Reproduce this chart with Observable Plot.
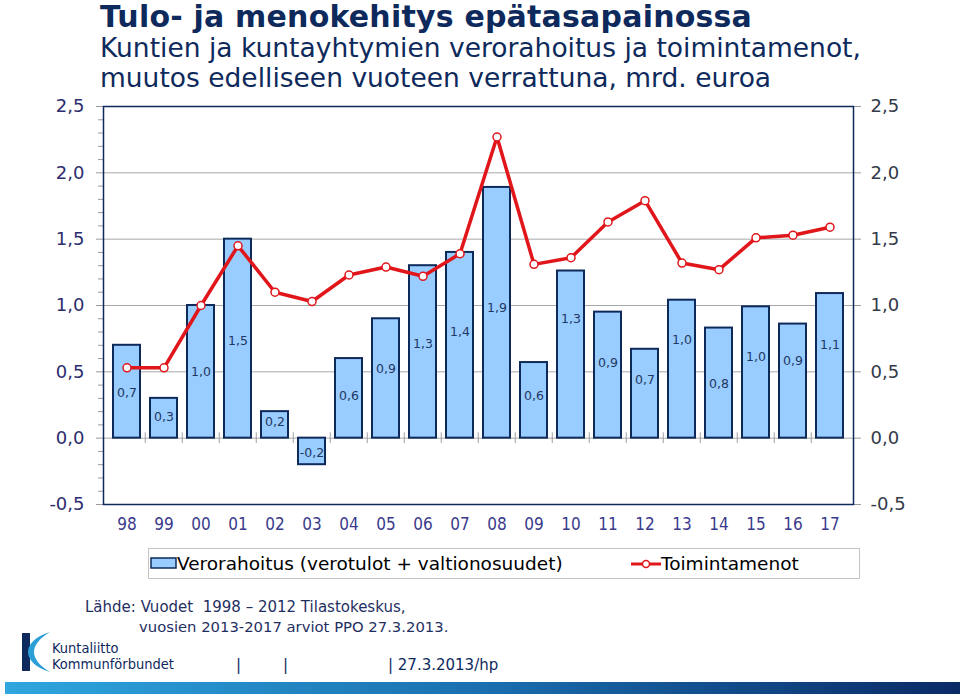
<!DOCTYPE html>
<html><head><meta charset="utf-8">
<script src="https://cdn.jsdelivr.net/npm/d3@7"></script>
<script src="https://cdn.jsdelivr.net/npm/@observablehq/plot@0.6"></script>
<style>
body{margin:0;background:#fff;}
#wrap{position:relative;width:960px;height:696px;overflow:hidden;font-family:"DejaVu Sans",sans-serif;}
#chart{position:absolute;left:0;top:0;}
.abs{position:absolute;white-space:nowrap;line-height:1.15;}
</style></head><body><div id="wrap">
<div id="chart"></div>
<div class="abs" id="title" style="left:100px;top:0px;line-height:1.164;font-weight:bold;font-size:30px;letter-spacing:0.2px;color:#0e2a5c;">Tulo- ja menokehitys epätasapainossa</div>
<div class="abs" style="left:100px;top:35px;font-size:26.5px;line-height:1;color:#0e2a5c;">Kuntien ja kuntayhtymien verorahoitus ja toimintamenot,</div>
<div class="abs" style="left:100px;top:65px;font-size:26.5px;line-height:1;color:#0e2a5c;">muutos edelliseen vuoteen verrattuna, mrd. euroa</div>
<div id="legend" class="abs" style="left:148px;top:548px;width:712px;height:31px;border:1px solid #c4c4c4;box-sizing:border-box;"></div>
<div class="abs" style="left:85px;top:599px;font-size:15px;color:#1f2f5f;">Lähde: Vuodet&nbsp; 1998 – 2012 Tilastokeskus,</div>
<div class="abs" style="left:139px;top:618px;font-size:14.8px;color:#1f2f5f;">vuosien 2013-2017 arviot PPO 27.3.2013.</div>
<svg class="abs" style="left:18px;top:630px;" width="40" height="44" viewBox="0 0 40 44">
  <rect x="4" y="3" width="8" height="38" fill="#0e2a5c"/>
  <path d="M32,2 C18,6 10,14 10,22 C10,30 18,38 32,42 C22,36 16,29 16,22 C16,15 22,8 32,2 Z" fill="#2b9fd6"/>
</svg>
<div class="abs" style="left:52px;top:641px;font-family:'DejaVu Sans Condensed';font-size:14.5px;line-height:1;color:#0e2a5c;">Kuntaliitto</div>
<div class="abs" style="left:52px;top:657px;font-family:'DejaVu Sans Condensed';font-size:14.5px;line-height:1;color:#0e2a5c;">Kommunförbundet</div>
<div class="abs" style="left:236px;top:657px;font-size:15px;color:#0e2a5c;">|</div>
<div class="abs" style="left:283px;top:657px;font-size:15px;color:#0e2a5c;">|</div>
<div class="abs" style="left:388px;top:657px;font-size:15px;color:#0e2a5c;">| 27.3.2013/hp</div>
<div class="abs" style="left:5px;top:682px;width:955px;height:12px;background:linear-gradient(to right,#2fa6de,#1a6fb0 50%,#0a2a66);"></div>
</div>
<script>
// ---- data ----
const years = ["98","99","00","01","02","03","04","05","06","07","08","09","10","11","12","13","14","15","16","17"];
const verorahoitus = [0.70,0.30,1.00,1.50,0.20,-0.20,0.60,0.90,1.30,1.40,1.89,0.57,1.26,0.95,0.67,1.04,0.83,0.99,0.86,1.09];
const toimintamenot = [0.53,0.53,1.00,1.45,1.10,1.03,1.23,1.29,1.22,1.39,2.27,1.31,1.36,1.63,1.79,1.32,1.27,1.51,1.53,1.59];
const barLabels = ["0,7","0,3","1,0","1,5","0,2","-0,2","0,6","0,9","1,3","1,4","1,9","0,6","1,3","0,9","0,7","1,0","0,8","1,0","0,9","1,1"];
const labelAt = [0.34,0.16,0.50,0.73,0.12,-0.11,0.32,0.52,0.71,0.80,0.98,0.32,0.90,0.57,0.44,0.74,0.41,0.61,0.58,0.70];
const yTicks = [-0.5,0,0.5,1,1.5,2,2.5];
const gridLines = [0,0.5,1,1.5,2];
const minorTicks = [-0.4,-0.3,-0.2,-0.1,0.1,0.2,0.3,0.4,0.6,0.7,0.8,0.9,1.1,1.2,1.3,1.4,1.6,1.7,1.8,1.9,2.1,2.2,2.3,2.4];
const seriesNames = ["Verorahoitus (verotulot + valtionosuudet)","Toimintamenot"];

const data = years.map((y,i)=>({year:y, v:verorahoitus[i], t:toimintamenot[i], label:barLabels[i], ly:labelAt[i]}));
const fmt = d => d.toFixed(1).replace(".", ",");
const navy = "#0d2a5a", red = "#e0161b", barFill = "#99ccff";
const step = (960-103-107)/years.length;

const chart = Plot.plot({
  width: 960, height: 696,
  marginTop: 106, marginBottom: 192, marginLeft: 103, marginRight: 107,
  style: {fontFamily: "DejaVu Sans", background: "transparent", overflow: "visible"},
  x: {type: "band", domain: years, paddingInner: 0.28, paddingOuter: 0.14},
  y: {domain: [-0.5, 2.5]},
  marks: [
    Plot.ruleY(gridLines, {stroke: "#a8a8a8", strokeWidth: 1}),
    Plot.ruleX(years.slice(1), {x: d => d, dx: -step/2, y1: -0.04, y2: 0.04, stroke: "#a0a0a0"}),
    Plot.barY(data, {x: "year", y: "v", fill: barFill, stroke: navy, strokeWidth: 2}),
    Plot.text(data, {x: "year", y: "ly", text: "label", fill: "#1f3864", fontSize: 12.5}),
    Plot.line(data, {x: "year", y: "t", stroke: red, strokeWidth: 3.5}),
    Plot.dot(data, {x: "year", y: "t", r: 4, fill: "white", stroke: red, strokeWidth: 1.5}),
    Plot.axisY(minorTicks, {anchor: "left", tickSize: 5, tickFormat: () => "", stroke: "#9a9a9a", label: null}),
    Plot.axisY(yTicks, {anchor: "left", tickSize: 7, tickPadding: 12, tickFormat: fmt, fontSize: 18, fill: "#2d2d6e", stroke: "#9a9a9a", label: null}),
    Plot.axisY(yTicks, {anchor: "right", tickSize: 7, tickPadding: 10, tickFormat: fmt, fontSize: 18, fill: "#333a4a", stroke: "#9a9a9a", label: null}),
    Plot.axisX({anchor: "bottom", tickSize: 0, tickPadding: 13, fontSize: 17, fontFamily: "DejaVu Sans Condensed", fill: "#3a3a8c", label: null}),
    Plot.frame({stroke: navy, strokeWidth: 1.5})
  ]
});
document.getElementById("chart").appendChild(chart);

// legend
const lg = document.getElementById("legend");
lg.innerHTML = `
<svg style="position:absolute;left:1px;top:8px" width="28" height="13"><rect x="1" y="1" width="25" height="10" fill="${barFill}" stroke="${navy}" stroke-width="1.5"/></svg>
<div class="abs" style="left:28px;top:4px;font-size:18.5px;color:#000;">${seriesNames[0]}</div>
<svg style="position:absolute;left:481px;top:8px" width="32" height="14"><line x1="1" y1="7" x2="31" y2="7" stroke="${red}" stroke-width="3"/><circle cx="16" cy="7" r="3.5" fill="white" stroke="${red}" stroke-width="1.5"/></svg>
<div class="abs" style="left:512px;top:4px;font-size:18.5px;color:#000;">${seriesNames[1]}</div>`;
</script>
</body></html>
